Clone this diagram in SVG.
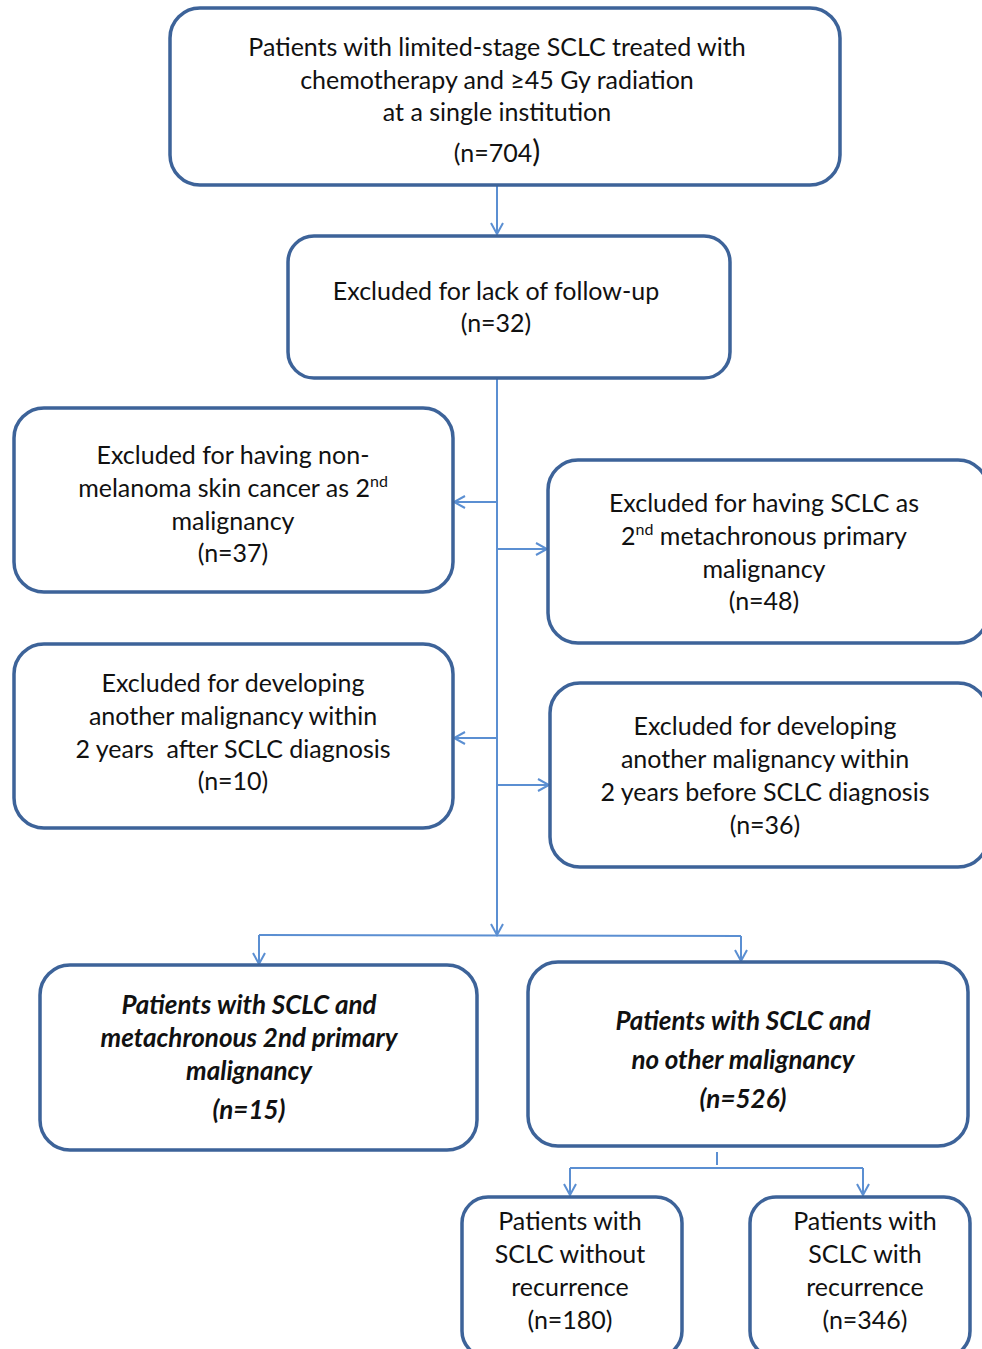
<svg xmlns="http://www.w3.org/2000/svg" width="982" height="1349" viewBox="0 0 982 1349">
<style>
.box{fill:#ffffff;stroke:#3d6399;stroke-width:3.5}
.t{font-family:Lato,"Open Sans","Liberation Sans",sans-serif;font-size:25px;fill:#111;text-anchor:middle}
.b{font-weight:bold;font-style:italic;font-size:26px}
.c{fill:none;stroke:#5b8fd2;stroke-width:2}
</style>
<defs>
<marker id="ah" markerWidth="14" markerHeight="14" refX="12" refY="7" orient="auto" markerUnits="userSpaceOnUse">
<path d="M1,1 L12,7 L1,13" fill="none" stroke="#5b8fd2" stroke-width="2"/>
</marker>
</defs>
<rect width="982" height="1349" fill="#ffffff"/>
<g id="connectors">
<line class="c" x1="497" y1="185" x2="497" y2="234" marker-end="url(#ah)"/>
<line class="c" x1="497" y1="378" x2="497" y2="935" marker-end="url(#ah)"/>
<line class="c" x1="497" y1="502" x2="454" y2="502" marker-end="url(#ah)"/>
<line class="c" x1="497" y1="549" x2="547" y2="549" marker-end="url(#ah)"/>
<line class="c" x1="497" y1="738" x2="454" y2="738" marker-end="url(#ah)"/>
<line class="c" x1="497" y1="785" x2="549" y2="785" marker-end="url(#ah)"/>
<line class="c" x1="259" y1="935" x2="741" y2="936"/>
<line class="c" x1="259" y1="935" x2="259" y2="964" marker-end="url(#ah)"/>
<line class="c" x1="741" y1="936" x2="741" y2="961" marker-end="url(#ah)"/>
<line class="c" x1="717" y1="1152" x2="717" y2="1165"/>
<line class="c" x1="570" y1="1168" x2="863" y2="1168"/>
<line class="c" x1="570" y1="1168" x2="570" y2="1195" marker-end="url(#ah)"/>
<line class="c" x1="863" y1="1168" x2="863" y2="1195" marker-end="url(#ah)"/>
</g>
<g id="n1">
<rect class="box" x="170" y="8" width="670" height="177" rx="30"/>
<text class="t" x="497" y="56">Patients with limited-stage SCLC treated with</text>
<text class="t" x="497" y="89">chemotherapy and ≥45 Gy radiation</text>
<text class="t" x="497" y="121">at a single institution</text>
<text class="t" x="497" y="162">(n=704<tspan font-size="30">)</tspan></text>
</g>
<g id="n2">
<rect class="box" x="288" y="236" width="442" height="142" rx="26"/>
<text class="t" x="496" y="300">Excluded for lack of follow-up</text>
<text class="t" x="496" y="332">(n=32)</text>
</g>
<g id="n3">
<rect class="box" x="14" y="408" width="439" height="184" rx="30"/>
<text class="t" x="233" y="464">Excluded for having non-</text>
<text class="t" x="233" y="497">melanoma skin cancer as 2<tspan font-size="16" dy="-10">nd</tspan></text>
<text class="t" x="233" y="530">malignancy</text>
<text class="t" x="233" y="562">(n=37)</text>
</g>
<g id="n4">
<rect class="box" x="548" y="460" width="440" height="183" rx="30"/>
<text class="t" x="764" y="512">Excluded for having SCLC as</text>
<text class="t" x="764" y="545">2<tspan font-size="16" dy="-10">nd</tspan><tspan dy="10"> metachronous primary</tspan></text>
<text class="t" x="764" y="578">malignancy</text>
<text class="t" x="764" y="610">(n=48)</text>
</g>
<g id="n5">
<rect class="box" x="14" y="644" width="439" height="184" rx="30"/>
<text class="t" x="233" y="692">Excluded for developing</text>
<text class="t" x="233" y="725">another malignancy within</text>
<text class="t" x="233" y="758" xml:space="preserve">2 years  after SCLC diagnosis</text>
<text class="t" x="233" y="790">(n=10)</text>
</g>
<g id="n6">
<rect class="box" x="550" y="683" width="438" height="184" rx="30"/>
<text class="t" x="765" y="735">Excluded for developing</text>
<text class="t" x="765" y="768">another malignancy within</text>
<text class="t" x="765" y="801">2 years before SCLC diagnosis</text>
<text class="t" x="765" y="834">(n=36)</text>
</g>
<g id="n7">
<rect class="box" x="40" y="965" width="437" height="185" rx="30"/>
<text class="t b" x="249" y="1014">Patients with SCLC and</text>
<text class="t b" x="249" y="1047">metachronous 2nd primary</text>
<text class="t b" x="249" y="1080">malignancy</text>
<text class="t b" x="249" y="1119">(n=15)</text>
</g>
<g id="n8">
<rect class="box" x="528" y="962" width="440" height="184" rx="30"/>
<text class="t b" x="743" y="1030">Patients with SCLC and</text>
<text class="t b" x="743" y="1069">no other malignancy</text>
<text class="t b" x="743" y="1108">(n=526)</text>
</g>
<g id="n9">
<rect class="box" x="462" y="1197" width="220" height="160" rx="26"/>
<text class="t" x="570" y="1230">Patients with</text>
<text class="t" x="570" y="1263">SCLC without</text>
<text class="t" x="570" y="1296">recurrence</text>
<text class="t" x="570" y="1329">(n=180)</text>
</g>
<g id="n10">
<rect class="box" x="750" y="1197" width="220" height="160" rx="26"/>
<text class="t" x="865" y="1230">Patients with</text>
<text class="t" x="865" y="1263">SCLC with</text>
<text class="t" x="865" y="1296">recurrence</text>
<text class="t" x="865" y="1329">(n=346)</text>
</g>
</svg>
